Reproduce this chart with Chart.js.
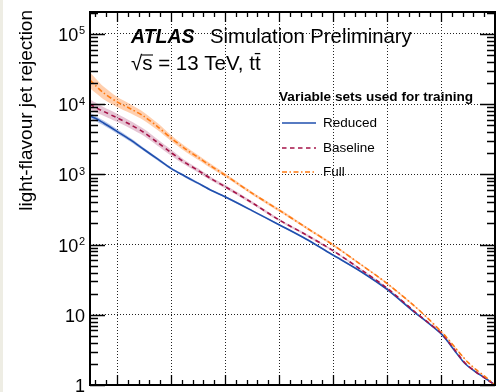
<!DOCTYPE html>
<html>
<head>
<meta charset="utf-8">
<script src="https://cdn.jsdelivr.net/npm/chart.js@4/dist/chart.umd.min.js"></script>
<style>
	html, body { margin: 0; padding: 0; background: #fff; }
	canvas { display: block; }
</style>
</head>
<body>
<canvas id="roc" width="499" height="392"></canvas>
<script>
"use strict";

// b-jet efficiency points where the rejection curves are sampled
const bEff = [0.25, 0.26, 0.275, 0.30, 0.325, 0.35, 0.375, 0.40, 0.425, 0.45, 0.475, 0.50,
	0.55, 0.60, 0.65, 0.70, 0.75, 0.80, 0.85, 0.875, 0.90, 0.91, 0.925, 0.94, 0.95, 0.965, 0.98, 1.0];

// light-flavour jet rejection for each variable set
const reducedRej = [6800, 6300, 5400, 4100, 3100, 2260, 1660, 1220, 950, 750, 590, 480,
	305, 192, 120, 71, 42, 23, 11, 7.8, 5.4, 4.4, 3.1, 2.2, 1.85, 1.52, 1.28, 1.0];
const baselineRej = [10000, 9000, 7900, 6400, 5100, 3950, 2850, 2050, 1490, 1140, 860, 670,
	395, 225, 138, 82, 45, 24, 11.3, 7.9, 5.5, 4.5, 3.2, 2.25, 1.87, 1.53, 1.28, 1.0];
const fullRej = [22000, 18500, 14500, 10800, 8600, 6700, 4800, 3300, 2350, 1750, 1300, 980,
	540, 310, 175, 99, 53, 28, 13.5, 9.0, 5.8, 4.8, 3.5, 2.55, 2.1, 1.65, 1.35, 1.0];

// relative statistical uncertainty (half width of the shaded band)
const reducedErr = [0.10, 0.09, 0.08, 0.07, 0.06, 0.05, 0.05, 0.04, 0.04, 0.04, 0.03, 0.03,
	0.03, 0.03, 0.03, 0.02, 0.02, 0.02, 0.02, 0.02, 0.02, 0.02, 0.02, 0.01, 0.01, 0.01, 0.01, 0.0];
const baselineErr = [0.18, 0.17, 0.15, 0.14, 0.13, 0.12, 0.11, 0.10, 0.08, 0.07, 0.06, 0.06,
	0.05, 0.04, 0.04, 0.03, 0.03, 0.03, 0.02, 0.02, 0.02, 0.02, 0.02, 0.01, 0.01, 0.01, 0.01, 0.0];
const fullErr = [0.30, 0.27, 0.23, 0.18, 0.16, 0.14, 0.12, 0.10, 0.09, 0.08, 0.07, 0.06,
	0.05, 0.05, 0.04, 0.04, 0.03, 0.03, 0.03, 0.02, 0.02, 0.02, 0.02, 0.02, 0.01, 0.01, 0.01, 0.0];

const seriesLabels = ["Reduced", "Baseline", "Full"];
const legendHeader = "Variable sets used for training";

// axis grid and labels
const effGrid = [0.3, 0.4, 0.5, 0.6, 0.7, 0.8, 0.9];
const rejDecades = [1, 10, 100, 1000, 10000, 100000];
const rejBase = ["1", "10", "10", "10", "10", "10"];
const rejExp = ["", "", "2", "3", "4", "5"];
const yTitle = "light-flavour jet rejection";

const FONT = "'Liberation Sans', Arial, Helvetica, sans-serif";

const styles = [
	{ line: "#1f4fae", band: "rgba(120,150,215,0.55)", dash: [], width: 1.6 },
	{ line: "#a51348", band: "rgba(205,140,170,0.5)", dash: [4.5, 3.5], width: 1.6 },
	{ line: "#ff7a12", band: "rgba(255,175,120,0.6)", dash: [5, 2.5, 1.5, 2.5], width: 1.6 },
];

function points(vals) {
	return bEff.map((e, i) => ({ x: e, y: vals[i] }));
}

function makeDatasets() {
	const rej = [reducedRej, baselineRej, fullRej];
	const err = [reducedErr, baselineErr, fullErr];
	const out = [];
	for (let s = 0; s < 3; ++s) {
		const st = styles[s];
		out.push({
			label: seriesLabels[s] + " up",
			data: points(rej[s].map((v, i) => v * (1 + err[s][i]))),
			borderWidth: 0,
			pointRadius: 0,
			backgroundColor: st.band,
			fill: "+1",
			tension: 0.3,
			order: 10 + s,
		});
		out.push({
			label: seriesLabels[s] + " down",
			data: points(rej[s].map((v, i) => v / (1 + err[s][i]))),
			borderWidth: 0,
			pointRadius: 0,
			fill: false,
			tension: 0.3,
			order: 10 + s,
		});
	}
	for (let s = 0; s < 3; ++s) {
		const st = styles[s];
		out.push({
			label: seriesLabels[s],
			data: points(rej[s]),
			borderColor: st.line,
			borderWidth: st.width,
			borderDash: st.dash,
			pointRadius: 0,
			fill: false,
			tension: 0.3,
			order: 2 - s,
		});
	}
	return out;
}

const background = {
	id: "background",
	beforeDraw(chart) {
		const ctx = chart.ctx;
		ctx.save();
		ctx.fillStyle = "#fff";
		ctx.fillRect(0, 0, chart.width, chart.height);
		ctx.fillStyle = "#eeede4";
		ctx.fillRect(0, 0, 3, chart.height);
		ctx.restore();
	},
};

const atlasFrame = {
	id: "atlasFrame",
	afterDraw(chart) {
		const ctx = chart.ctx;
		const a = chart.chartArea;
		const xs = chart.scales.x;
		const ys = chart.scales.y;
		ctx.save();

		// inward ticks on all four sides
		ctx.strokeStyle = "#000";
		ctx.lineWidth = 1.3;
		ctx.beginPath();
		for (let i = 13; i < 50; ++i) {
			const px = Math.round(xs.getPixelForValue(i / 50)) + 0.5;
			const len = i % 5 === 0 ? 10 : 5;
			ctx.moveTo(px, a.bottom);
			ctx.lineTo(px, a.bottom - len);
			ctx.moveTo(px, a.top);
			ctx.lineTo(px, a.top + len);
		}
		for (let d = 0; d <= 5; ++d) {
			for (let m = 1; m <= 9; ++m) {
				const v = m * Math.pow(10, d);
				if (v > ys.max) continue;
				const py = Math.round(ys.getPixelForValue(v)) + 0.5;
				const len = m === 1 ? 15 : 8;
				ctx.moveTo(a.left, py);
				ctx.lineTo(a.left + len, py);
				ctx.moveTo(a.right, py);
				ctx.lineTo(a.right - len, py);
			}
		}
		ctx.stroke();

		// frame
		ctx.lineWidth = 2;
		ctx.strokeRect(a.left, a.top, a.right - a.left, a.bottom - a.top);

		// y tick labels, 10 with a raised exponent
		ctx.fillStyle = "#000";
		ctx.textBaseline = "alphabetic";
		for (let i = 0; i < rejDecades.length; ++i) {
			const py = ys.getPixelForValue(rejDecades[i]);
			const right = 85;
			ctx.font = "11px " + FONT;
			const ew = rejExp[i] ? ctx.measureText(rejExp[i]).width : 0;
			ctx.textAlign = "right";
			if (rejExp[i]) ctx.fillText(rejExp[i], right, py + 0.5);
			ctx.font = "18px " + FONT;
			ctx.fillText(rejBase[i], right - ew - (ew ? 0.5 : 0), py + 7);
		}

		// y axis title
		ctx.save();
		ctx.translate(31.5, 10);
		ctx.rotate(-Math.PI / 2);
		ctx.font = "19px " + FONT;
		ctx.textAlign = "right";
		ctx.textBaseline = "alphabetic";
		ctx.fillText(yTitle, 0, 0);
		ctx.restore();

		// ATLAS label
		ctx.textAlign = "left";
		ctx.font = "italic bold 19.5px " + FONT;
		ctx.fillText("ATLAS", 131, 43);
		ctx.font = "20.3px " + FONT;
		ctx.fillText("Simulation Preliminary", 210, 43);
		ctx.font = "20.5px " + FONT;
		const sqrtW = ctx.measureText("\u221A").width;
		const sW = ctx.measureText("s").width;
		ctx.fillText("\u221As = 13 TeV, tt\u0304", 131, 70);
		ctx.lineWidth = 1.1;
		ctx.beginPath();
		ctx.moveTo(131 + sqrtW - 0.5, 55);
		ctx.lineTo(131 + sqrtW + sW + 0.5, 55);
		ctx.stroke();

		// legend
		ctx.font = "bold 13.6px " + FONT;
		ctx.textBaseline = "middle";
		ctx.fillText(legendHeader, 279, 97);
		const rows = [123, 148, 172];
		ctx.font = "13.5px " + FONT;
		for (let s = 0; s < 3; ++s) {
			const st = styles[s];
			ctx.strokeStyle = st.line;
			ctx.lineWidth = st.width;
			ctx.setLineDash(st.dash);
			ctx.beginPath();
			ctx.moveTo(282, rows[s]);
			ctx.lineTo(316, rows[s]);
			ctx.stroke();
			ctx.setLineDash([]);
			ctx.fillText(seriesLabels[s], 323, rows[s] + 0.5);
		}
		ctx.restore();
	},
};

window.onload = () => {
	const canvas = document.getElementById("roc");
	new Chart(canvas, {
		type: "line",
		data: { datasets: makeDatasets() },
		plugins: [background, atlasFrame],
		options: {
			responsive: false,
			animation: false,
			layout: { padding: { left: 90, right: 4, top: 12, bottom: 7 } },
			scales: {
				x: {
					type: "linear",
					min: 0.25,
					max: 1.0,
					afterBuildTicks: scale => {
						scale.ticks = effGrid.map(v => ({ value: v }));
					},
					ticks: { display: false },
					grid: { color: "#222", lineWidth: 1, drawTicks: false },
					border: { display: false, dash: [1, 2] },
				},
				y: {
					type: "logarithmic",
					min: 1,
					max: Math.pow(10, 5.313),
					afterBuildTicks: scale => {
						scale.ticks = rejDecades.slice(1).map(v => ({ value: v }));
					},
					ticks: { display: false },
					grid: { color: "#222", lineWidth: 1, drawTicks: false },
					border: { display: false, dash: [1, 2] },
				},
			},
			plugins: {
				legend: { display: false },
				tooltip: { enabled: false },
			},
		},
	});
};
</script>
</body>
</html>
